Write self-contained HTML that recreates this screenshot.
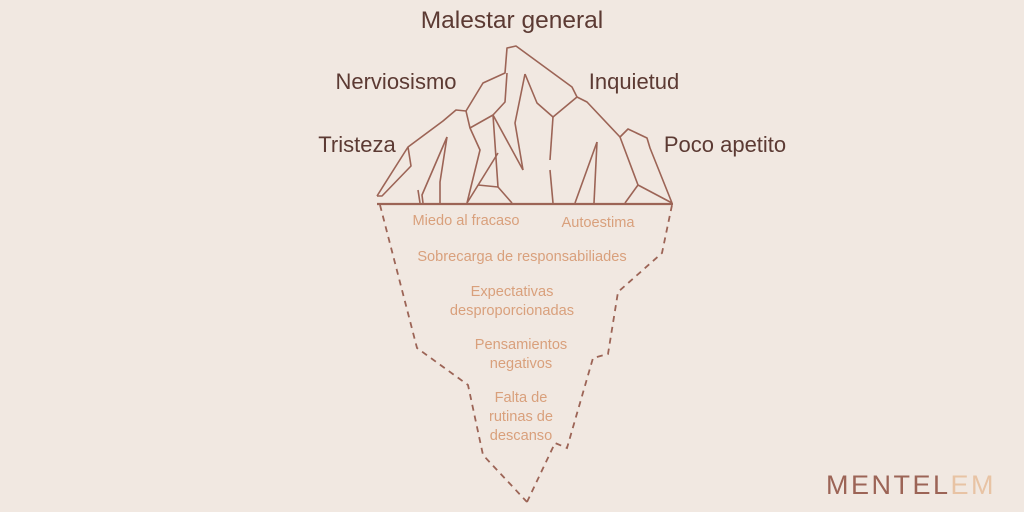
<!DOCTYPE html>
<html><head><style>
body{margin:0;background:#f1e8e1;}
svg{display:block}
text{font-family:"Liberation Sans",sans-serif}
</style></head><body>
<svg width="1024" height="512" viewBox="0 0 1024 512">
<rect width="1024" height="512" fill="#f1e8e1"/>
<g fill="#5c3a33" font-size="22">
<text x="512" y="28" text-anchor="middle" font-size="24.5">Malestar general</text>
<text x="396" y="89" text-anchor="middle">Nerviosismo</text>
<text x="634" y="89" text-anchor="middle">Inquietud</text>
<text x="357" y="152" text-anchor="middle">Tristeza</text>
<text x="725" y="152" text-anchor="middle">Poco apetito</text>
</g>
<g fill="none" stroke="#9c6456" stroke-width="1.6" stroke-linejoin="round">
<line x1="377" y1="204" x2="673" y2="204" stroke-width="2.2"/>
<polyline points="377,196 408,147 443,121 456,110 466,111 483,83 505,73 507,48 516,46 572,87 577,97 587,102 620,137 628,129 647,138 650,148 672,203"/>
<polyline points="408,147 411,166 382,196 377,196"/>
<polyline points="466,111 470,128 480,150 467,203"/>
<polyline points="470,128 493,115 505,102 507,73"/>
<polyline points="493,115 523,170"/>
<polyline points="493,115 498,187 478,185"/>
<polyline points="498,153 467,203"/>
<polyline points="498,187 512,203"/>
<polyline points="525,74 515,123 523,170"/>
<polyline points="525,74 537,103 553,117 577,97"/>
<polyline points="553,117 550,160"/>
<polyline points="550,170 553,203"/>
<polyline points="597,142 575,203"/>
<polyline points="597,142 594,203"/>
<polyline points="620,137 638,185 625,203"/>
<polyline points="638,185 672,203"/>
<polyline points="447,137 422,195 423,203"/>
<polyline points="447,137 440,182 440,203"/>
<polyline points="418,190 420,203"/>
</g>
<g fill="none" stroke="#9c6456" stroke-width="1.8" stroke-dasharray="6,5">
<polyline points="380,205 417,348 468,385 483,455 527,502"/>
<polyline points="527,502 555,443 567,448 593,358 608,354 618,292 662,253 672,205"/>
</g>
<g fill="#d9a07c" font-size="14.6" text-anchor="middle">
<text x="466" y="225">Miedo al fracaso</text>
<text x="598" y="227">Autoestima</text>
<text x="522" y="261">Sobrecarga de responsabiliades</text>
<text x="512" y="296">Expectativas</text>
<text x="512" y="315">desproporcionadas</text>
<text x="521" y="349">Pensamientos</text>
<text x="521" y="368">negativos</text>
<text x="521" y="402">Falta de</text>
<text x="521" y="421">rutinas de</text>
<text x="521" y="440">descanso</text>
</g>
<text x="826" y="494" font-size="27" letter-spacing="2.5" fill="#9c6456">MENTEL<tspan fill="#e8c3a4">EM</tspan></text>
</svg>
</body></html>
